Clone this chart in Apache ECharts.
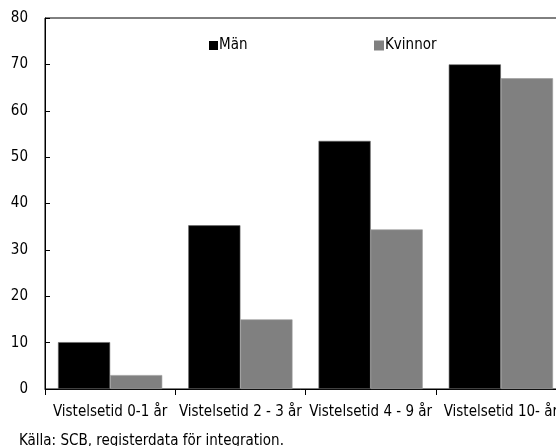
<!DOCTYPE html>
<html>
<head>
<meta charset="utf-8">
<script src="https://cdn.jsdelivr.net/npm/echarts@6/dist/echarts.min.js"></script>
<style>html,body{margin:0;padding:0;background:#fff}#c{width:556px;height:446px}</style>
</head>
<body>
<div id="c"></div>
<script>
var categories = ['Vistelsetid 0-1 år', 'Vistelsetid 2 - 3 år', 'Vistelsetid 4 - 9 år', 'Vistelsetid 10- år'];
var men = [10.1, 35.3, 53.5, 70.0];
var women = [3.0, 15.0, 34.4, 67.0];
var yTicks = [0, 80, 10];
var seriesNames = ['Män', 'Kvinnor'];
var source = 'Källa: SCB, registerdata för integration.';

var FONT = '"DejaVu Sans Condensed", "Liberation Sans Narrow", sans-serif';
var chart = echarts.init(document.getElementById('c'), null, {renderer: 'canvas'});
chart.setOption({
  animation: false,
  backgroundColor: '#fff',
  textStyle: {fontFamily: FONT},
  title: {
    text: source, left: 14, top: 429,
    textStyle: {fontFamily: FONT, fontSize: 15, fontWeight: 'normal', color: '#000'}
  },
  legend: [
    {data: [seriesNames[0]], left: 204, top: 33, itemWidth: 9, itemHeight: 9, icon: 'rect',
     itemStyle: {borderWidth: 0},
     textStyle: {fontFamily: FONT, fontSize: 15, color: '#000', padding: [0,0,0,-4]}},
    {data: [seriesNames[1]], left: 369, top: 33, itemWidth: 10, itemHeight: 10, icon: 'rect',
     itemStyle: {borderWidth: 0},
     textStyle: {fontFamily: FONT, fontSize: 15, color: '#000', padding: [0,0,0,-4]}}
  ],
  grid: {left: 45, right: -10, top: 18, bottom: 57, show: true, borderColor: '#000', borderWidth: 1,
         containLabel: false, outerBoundsMode: 'none'},
  xAxis: {
    type: 'category', data: categories,
    axisLine: {lineStyle: {color: '#000', width: 1}},
    axisTick: {show: true, length: 6, lineStyle: {color: '#000'}},
    axisLabel: {color: '#000', fontFamily: FONT, fontSize: 15, margin: 16, interval: 0}
  },
  yAxis: {
    type: 'value', min: yTicks[0], max: yTicks[1], interval: yTicks[2],
    axisLine: {show: true, lineStyle: {color: '#000', width: 1}},
    axisTick: {show: true, inside: true, length: 5, lineStyle: {color: '#000'}},
    splitLine: {show: false},
    axisLabel: {color: '#000', fontFamily: FONT, fontSize: 15, margin: 17}
  },
  series: [
    {name: seriesNames[0], type: 'bar', data: men, barGap: '0%', barCategoryGap: '20%',
     itemStyle: {color: '#000', borderColor: '#666', borderWidth: 0.6}},
    {name: seriesNames[1], type: 'bar', data: women,
     itemStyle: {color: '#808080', borderColor: '#999', borderWidth: 0.6}}
  ]
});
</script>
</body>
</html>
